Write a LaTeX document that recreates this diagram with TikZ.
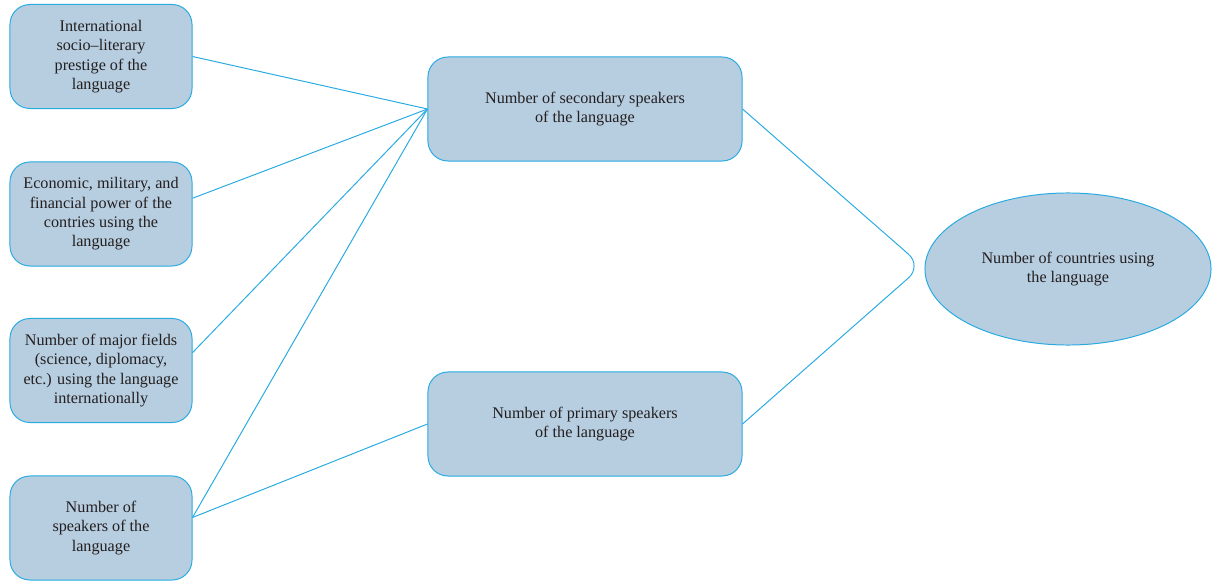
\documentclass[tikz,border=0pt]{standalone}
\usepackage{fontspec}
\setmainfont{Liberation Serif}
\usetikzlibrary{shapes.geometric,calc}
\definecolor{boxfill}{HTML}{B7CDE0}
\definecolor{boxline}{HTML}{29ABE2}
\definecolor{ink}{HTML}{231F20}
\begin{document}
\begin{tikzpicture}[x=0.025cm,y=-0.025cm,
    card/.style={draw=boxline,fill=boxfill,line width=0.7pt,rounded corners=0.5cm,
      align=center,text=ink,font=\fontsize{11.5}{13.8}\selectfont,inner sep=2pt},
    factor/.style={card,minimum width=4.55cm,minimum height=2.6cm},
    speakers/.style={card,minimum width=7.85cm,minimum height=2.6cm},
    link/.style={draw=boxline,line width=0.7pt}]
    \useasboundingbox (0,0) rectangle (1212,584);
    \node[factor] (prestige) at (101,56.5) {International\\socio--literary\\prestige of the\\language};
    \node[factor] (power) at (101,214) {Economic, military, and\\financial power of the\\contries using the\\language};
    \node[factor] (fields) at (101,370.5) {Number of major fields\\(science, diplomacy,\\etc.) using the language\\internationally};
    \node[factor] (total) at (101,528) {Number of\\speakers of the\\language};
    \node[speakers] (secondary) at (585,109) {Number of secondary speakers\\of the language};
    \node[speakers] (primary) at (585,424) {Number of primary speakers\\of the language};
    \node[ellipse,draw=boxline,fill=boxfill,line width=0.7pt,text=ink,align=center,
      font=\fontsize{11.5}{13.8}\selectfont,minimum width=7.15cm,minimum height=3.8cm]
      (countries) at (1068,269) {Number of countries using\\the language};
    \coordinate (join) at (922,266);
    % factors into the secondary speakers
    \draw[link] (prestige.east) -- (secondary.west);
    \foreach \b/\f in {power/0.35, fields/0.33, total/0.4}
    { \draw[link] ($(\b.north east)!\f!(\b.south east)$) -- (secondary.west); }
    \draw[link] ($(total.north east)!0.4!(total.south east)$) -- (primary.west);
    \draw[link,rounded corners=0.45cm] (secondary.east) -- (join) -- (primary.east);
  \end{tikzpicture}
\end{document}
